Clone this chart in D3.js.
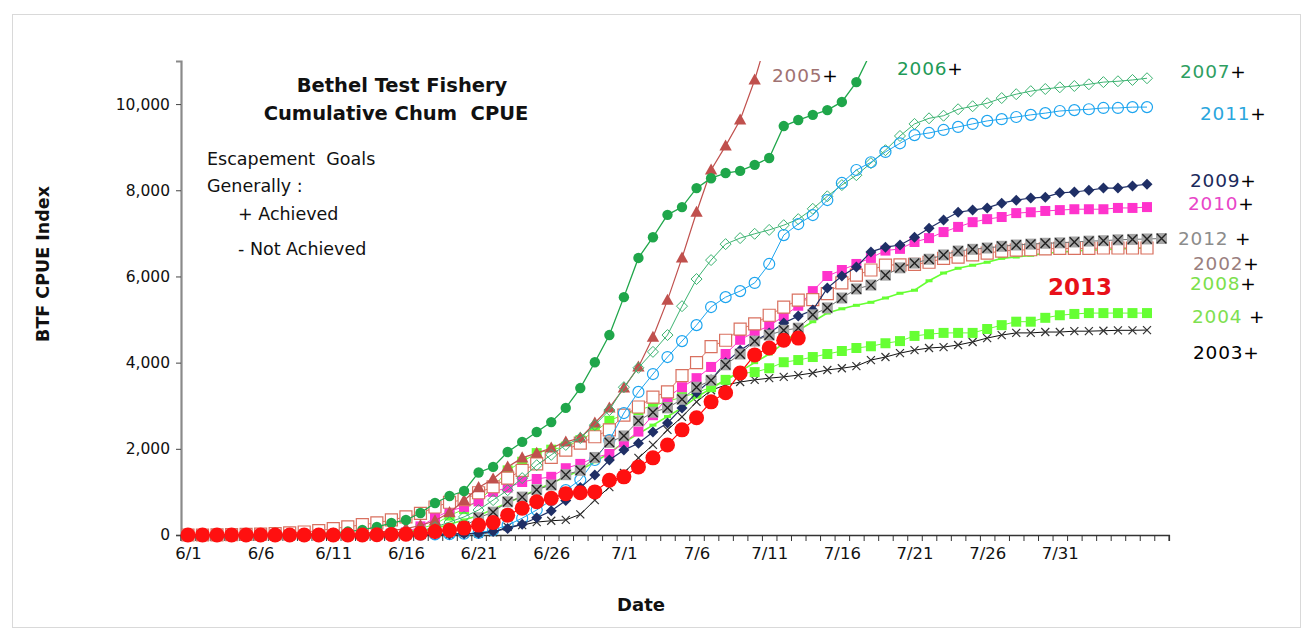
<!DOCTYPE html>
<html><head><meta charset="utf-8">
<script src="https://cdn.jsdelivr.net/npm/d3@7"></script>
<style>
body{margin:0;background:#fff}
text{font-family:"DejaVu Sans",Verdana,sans-serif}
</style>
</head><body>
<svg id="chart" width="1312" height="633"></svg>
<script>
// ---------- DATA ----------
const categories = ["6/1","6/2","6/3","6/4","6/5","6/6","6/7","6/8","6/9","6/10",
"6/11","6/12","6/13","6/14","6/15","6/16","6/17","6/18","6/19","6/20",
"6/21","6/22","6/23","6/24","6/25","6/26","6/27","6/28","6/29","6/30",
"7/1","7/2","7/3","7/4","7/5","7/6","7/7","7/8","7/9","7/10",
"7/11","7/12","7/13","7/14","7/15","7/16","7/17","7/18","7/19","7/20",
"7/21","7/22","7/23","7/24","7/25","7/26","7/27","7/28","7/29","7/30",
"7/31","8/1","8/2","8/3","8/4","8/5","8/6","8/7"];
const tickLabels = ["6/1","6/6","6/11","6/16","6/21","6/26","7/1","7/6","7/11","7/16","7/21","7/26","7/31"];
const yTicks = [0,2000,4000,6000,8000,10000];

const v2002 = [0,0,5,10,15,20,30,50,70,100, 150,190,240,280,350,420,500,650,760,820,
 980,1120,1320,1500,1650,1800,1970,2130,2280,2440, 2780,2970,3200,3320,3700,4000,4370,4520,4780,4900,
 5100,5290,5450,5460,5600,5850,6030,6150,6265,6270, 6280,6330,6420,6450,6500,6540,6590,6610,6620,6640,
 6650,6650,6650,6660,6660,6660,6660];
const v2003 = [0,0,0,0,0,0,0,0,0,0, 0,0,0,0,5,10,10,15,20,25,
 30,60,190,230,300,330,350,480,810,1110, 1440,1790,2090,2440,2740,3090,3360,3480,3550,3600,
 3640,3670,3710,3760,3830,3870,3920,4060,4130,4220, 4290,4340,4360,4410,4480,4570,4640,4690,4690,4710,
 4710,4730,4730,4740,4750,4750,4756];
const v2004 = [0,0,0,0,0,0,0,0,0,0, 0,5,10,15,20,50,150,250,450,600,
 800,1100,1500,1700,1900,1980,2050,2200,2400,2650, 2800,2900,3000,3100,3200,3300,3430,3600,3750,3780,
 3870,4010,4060,4130,4200,4270,4340,4380,4450,4500, 4620,4660,4690,4690,4690,4780,4870,4950,4950,5040,
 5100,5130,5150,5150,5150,5150,5150];
const v2005 = [0,0,0,0,0,0,0,5,10,15, 20,30,40,60,100,150,220,330,520,800,
 1100,1300,1580,1790,1900,2020,2160,2250,2600,2950, 3410,3900,4590,5450,6430,7490,8470,9030,9630,10560,
 11700,12500,13000,13400,13700];
const v2006 = [0,0,0,0,0,0,5,10,20,30, 50,80,120,186,278,348,510,742,905,1020,
 1450,1580,1925,2160,2390,2620,2950,3410,4010,4640, 5520,6430,6910,7430,7610,8050,8280,8400,8450,8590,
 8750,9490,9630,9750,9860,10050,10510,11200,11600,11900, 12100,12300,12400];
const v2007 = [0,0,0,0,0,0,0,5,10,15, 20,30,40,50,55,60,100,180,300,420,
 580,810,1040,1320,1620,1860,2090,2250,2550,2900, 3430,3880,4250,4640,5310,5940,6380,6750,6890,6990,
 7080,7190,7330,7570,7860,8120,8350,8630,8930,9260, 9540,9670,9730,9880,9950,10020,10140,10230,10300,10350,
 10390,10420,10460,10510,10530,10560,10600];
const v2008 = [0,0,0,0,0,0,0,0,5,10, 15,20,25,30,40,50,80,150,250,350,
 450,600,750,900,1050,1200,1350,1500,1700,1900, 2150,2350,2550,2750,2950,3200,3400,3600,3800,4000,
 4200,4450,4750,4950,5150,5250,5330,5400,5500,5610, 5680,5900,6080,6190,6260,6330,6420,6450,6490,6540,
 6560,6590,6610,6620,6640,6650,6660];
const v2009 = [0,0,0,0,0,0,0,0,0,0, 0,0,0,0,0,5,10,15,20,30,
 40,80,150,250,400,560,800,1100,1390,1740, 1970,2130,2390,2600,2950,3300,3600,4000,4290,4500,
 4690,4920,5080,5220,5730,6010,6220,6570,6680,6730, 6910,7120,7310,7490,7540,7590,7700,7770,7820,7840,
 7940,7960,8000,8050,8050,8100,8140];
const v2010 = [0,0,0,0,0,0,0,0,0,0, 5,10,15,20,30,60,200,400,560,650,
 780,1000,1100,1230,1300,1350,1550,1650,1800,1880, 2150,2400,2780,3200,3430,3640,3900,4200,4530,4710,
 4850,5080,5320,5660,6010,6150,6290,6430,6600,6640, 6800,6890,7030,7150,7260,7330,7380,7470,7490,7520,
 7540,7560,7560,7560,7590,7590,7610];
const v2011 = [0,0,0,0,0,0,0,0,0,0, 0,0,0,0,0,5,10,15,20,30,
 50,110,230,390,580,810,1040,1280,1740,2200, 2830,3320,3735,4130,4500,4870,5290,5520,5660,5850,
 6290,6960,7216,7425,7773,8170,8470,8650,8890,9090, 9280,9330,9400,9470,9540,9610,9650,9700,9750,9790,
 9840,9860,9880,9910,9910,9930,9930];
const v2012 = [0,0,0,0,0,0,0,0,0,0, 0,5,10,15,20,25,30,60,120,200,
 400,530,770,880,1050,1160,1400,1500,1800,2150, 2300,2650,2850,2950,3150,3430,3590,3950,4200,4500,
 4640,4750,4800,5110,5270,5500,5710,5800,6030,6200, 6310,6400,6500,6590,6630,6660,6700,6730,6750,6770,
 6780,6800,6820,6830,6850,6860,6870,6880];
const v2013 = [0,0,0,0,0,0,0,0,0,0, 0,0,0,5,10,20,40,80,110,160,
 230,290,460,620,770,850,960,980,1000,1270, 1350,1580,1790,2090,2440,2720,3090,3300,3760,4180,
 4340,4520,4570];

// ---------- STYLES (separate from data) ----------
const series = [
 {name:"2003", values:v2003, line:"#111", lw:1, marker:"x", ms:4, mstroke:"#333", mfill:"none", msw:1.2},
 {name:"2004", values:v2004, line:"#66ff33", lw:1, marker:"square", ms:5, mstroke:"none", mfill:"#66ff33"},
 {name:"2008", values:v2008, line:"#66ff33", lw:1.6, marker:"dash", ms:3.5, mstroke:"#66ff33", mfill:"none", msw:3},
 {name:"2010", values:v2010, line:"#ff33cc", lw:1, marker:"square", ms:5, mstroke:"none", mfill:"#ff33cc"},
 {name:"2002", values:v2002, line:"#d9705f", lw:1, marker:"square", ms:6, mstroke:"#d9705f", mfill:"#fff", msw:1.2},
 {name:"2005", values:v2005, line:"#c0504d", lw:1.2, marker:"triangle", ms:6.5, mstroke:"none", mfill:"#c0504d"},
 {name:"2006", values:v2006, line:"#1fa64a", lw:1.3, marker:"circle", ms:5.2, mstroke:"none", mfill:"#1fa64a"},
 {name:"2007", values:v2007, line:"#3cb371", lw:1, marker:"diamond", ms:5.5, mstroke:"#3cb371", mfill:"none", msw:1},
 {name:"2011", values:v2011, line:"#1ea5ef", lw:1, marker:"circle", ms:5.5, mstroke:"#1ea5ef", mfill:"none", msw:1.2},
 {name:"2009", values:v2009, line:"#1f2f66", lw:1.2, marker:"diamond", ms:5.5, mstroke:"none", mfill:"#1f2f66"},
 {name:"2012", values:v2012, line:"#6f6f6f", lw:1, marker:"xsquare", ms:5.5, mstroke:"none", mfill:"#a6a6a6", xstroke:"#222", msw:1.4},
 {name:"2013", values:v2013, line:"#ff0000", lw:1.2, marker:"circle", ms:7.5, mstroke:"none", mfill:"#ff1010"}
];

const labels = [
 {t:"2005", c:"#a07272", x:772, y:82, plus:"+"},
 {t:"2006", c:"#1e9a58", x:897, y:75, plus:"+"},
 {t:"2007", c:"#2e9e62", x:1180, y:78, plus:"+"},
 {t:"2011", c:"#2aa6dd", x:1200, y:120, plus:"+"},
 {t:"2009", c:"#1b2a5c", x:1190, y:187, plus:"+"},
 {t:"2010", c:"#e845c8", x:1188, y:210, plus:"+"},
 {t:"2012", c:"#8c8c8c", x:1178, y:245, plus:" +"},
 {t:"2002", c:"#9a7f7f", x:1193, y:270, plus:"+"},
 {t:"2008", c:"#7be04c", x:1190, y:290, plus:"+"},
 {t:"2004", c:"#7ee050", x:1192, y:323, plus:" +"},
 {t:"2003", c:"#000", x:1193, y:359, plus:"+"}
];

// ---------- DRAW ----------
const svg = d3.select("#chart");
const x = d3.scaleLinear().domain([-0.5, 67.5]).range([180.7, 1168.8]);
const y = d3.scaleLinear().domain([0, 11000]).range([535, 61]);

// chart border
svg.append("rect").attr("x",12.5).attr("y",14.5).attr("width",1288).attr("height",613)
  .attr("fill","none").attr("stroke","#d9d9d9").attr("stroke-width",1);

svg.append("defs").append("clipPath").attr("id","clip")
  .append("rect").attr("x",0).attr("y",61).attr("width",1312).attr("height",572);

// y axis
const yAxis = d3.axisLeft(y).tickValues(yTicks).tickSize(5).tickPadding(6).tickFormat(d3.format(","));
const gy = svg.append("g").attr("transform","translate(181,0)").call(yAxis);
gy.select(".domain").attr("stroke","#8a8a8a").attr("stroke-width",2.2);
gy.selectAll(".tick line").attr("stroke","#444");
gy.selectAll(".tick text").attr("font-size",15.5).attr("fill","#111").attr("font-family","DejaVu Sans");

// x axis: daily ticks at category boundaries
const bounds = d3.range(-0.5, 68, 1);
const gx = svg.append("g").attr("transform","translate(0,535)")
  .call(d3.axisBottom(x).tickValues(bounds).tickSize(6).tickFormat(""));
gx.select(".domain").attr("stroke","#333").attr("stroke-width",1.6);
gx.selectAll(".tick line").attr("stroke","#333");
const labIdx = tickLabels.map(l => categories.indexOf(l));
const gx2 = svg.append("g").attr("transform","translate(0,535)")
  .call(d3.axisBottom(x).tickValues(labIdx).tickSize(0).tickPadding(12).tickFormat(i => categories[i]));
gx2.select(".domain").remove();
gx2.selectAll(".tick text").attr("font-size",16.5).attr("fill","#111").attr("font-family","DejaVu Sans");

// axis titles
svg.append("text").attr("transform","translate(49,264) rotate(-90)").attr("text-anchor","middle")
  .attr("font-size",17.5).attr("font-weight","bold").attr("fill","#111").text("BTF CPUE Index");
svg.append("text").attr("x",641).attr("y",611).attr("text-anchor","middle")
  .attr("font-size",18).attr("font-weight","bold").attr("fill","#111").text("Date");

// title & notes
svg.append("text").attr("x",402).attr("y",92).attr("text-anchor","middle")
  .attr("font-size",19.5).attr("font-weight","bold").attr("fill","#111").text("Bethel Test Fishery");
svg.append("text").attr("x",396).attr("y",120).attr("text-anchor","middle")
  .attr("font-size",19.5).attr("font-weight","bold").attr("fill","#111").attr("xml:space","preserve").text("Cumulative Chum  CPUE");
const notes = [["Escapement  Goals",207,165],["Generally :",207,192],["+ Achieved",238,220],["- Not Achieved",238,255]];
notes.forEach(n => svg.append("text").attr("x",n[1]).attr("y",n[2]).attr("font-size",17.5)
  .attr("fill","#111").attr("xml:space","preserve").text(n[0]));

function markerPath(type, s){
  switch(type){
    case "circle": return `M${s},0A${s},${s} 0 1,1 ${-s},0A${s},${s} 0 1,1 ${s},0Z`;
    case "square": return `M${-s},${-s}H${s}V${s}H${-s}Z`;
    case "xsquare": return `M${-s},${-s}H${s}V${s}H${-s}Z`;
    case "diamond": return `M0,${-s}L${s},0L0,${s}L${-s},0Z`;
    case "triangle": return `M0,${-s}L${s*0.95},${s*0.7}L${-s*0.95},${s*0.7}Z`;
    case "x": return `M${-s},${-s}L${s},${s}M${-s},${s}L${s},${-s}`;
    case "dash": return `M${-s},0H${s}`;
  }
}

const plot = svg.append("g").attr("clip-path","url(#clip)");
const line = d3.line().x((d,i)=>x(i)).y(d=>y(d));
series.forEach(s => {
  const g = plot.append("g");
  g.append("path").attr("d", line(s.values)).attr("fill","none").attr("stroke",s.line).attr("stroke-width",s.lw);
  g.selectAll("path.m").data(s.values).join("path").attr("class","m")
    .attr("transform",(d,i)=>`translate(${x(i)},${y(d)})`)
    .attr("d", markerPath(s.marker, s.ms))
    .attr("fill", s.mfill).attr("stroke", s.mstroke).attr("stroke-width", s.msw||1);
  if (s.marker === "xsquare") {
    g.selectAll("path.mx").data(s.values).join("path").attr("class","mx")
      .attr("transform",(d,i)=>`translate(${x(i)},${y(d)})`)
      .attr("d", markerPath("x", s.ms-0.8)).attr("fill","none").attr("stroke", s.xstroke).attr("stroke-width", s.msw);
  }
});

// series labels
labels.forEach(l => {
  const t = svg.append("text").attr("x",l.x).attr("y",l.y).attr("font-size",18.5)
    .attr("letter-spacing",0.8).attr("xml:space","preserve");
  t.append("tspan").attr("fill",l.c).text(l.t);
  t.append("tspan").attr("fill","#000").text(l.plus);
});
svg.append("text").attr("x",1048).attr("y",295).attr("font-size",23).attr("font-weight","bold")
  .attr("fill","#e8101a").text("2013");
</script>
</body></html>
